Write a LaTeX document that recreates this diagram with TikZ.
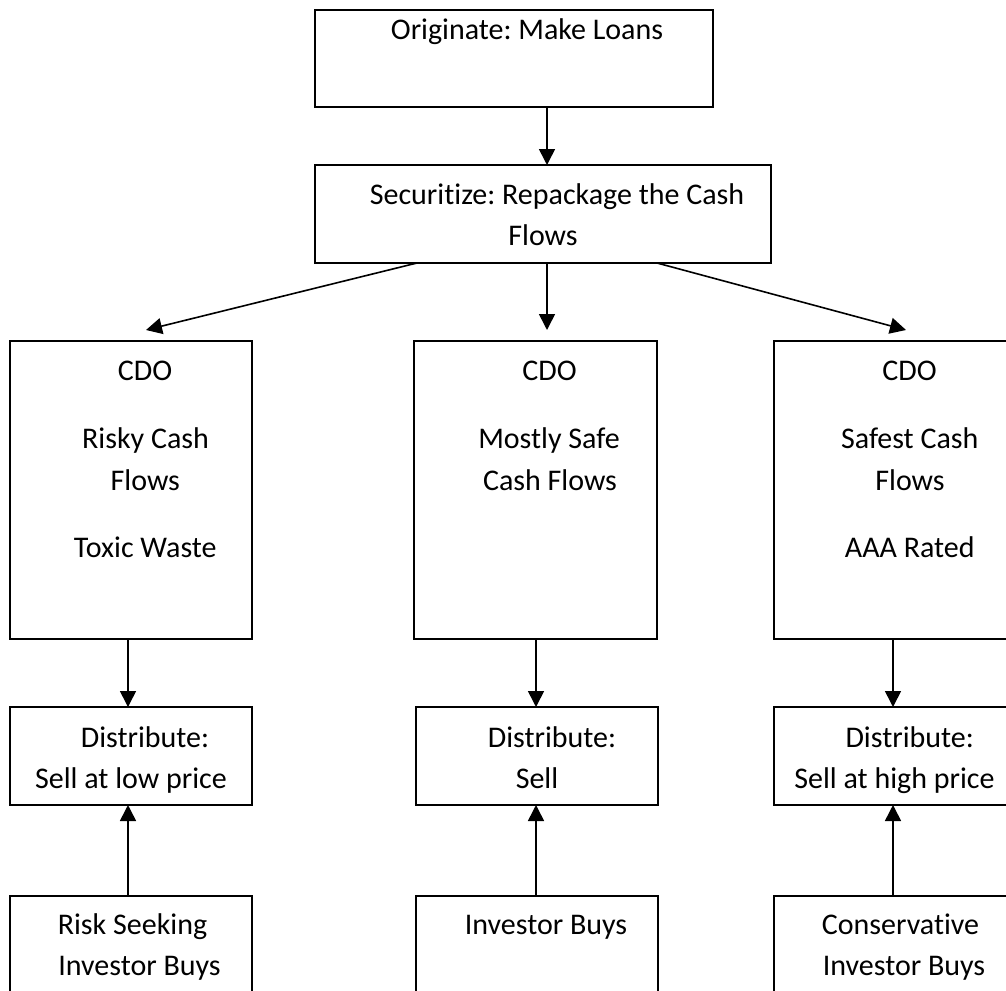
\documentclass[tikz,border=0pt]{standalone}
\usepackage{fontspec}
\setmainfont{Carlito}[Ligatures={NoCommon}]
\usetikzlibrary{arrows.meta}
\frenchspacing
\begin{document}
\begin{tikzpicture}[x=1pt,y=-1pt,
  box/.style={draw=black, line width=1.6pt, rectangle, inner sep=0pt, outer sep=0pt},
  txt/.style={anchor=base, inner sep=0pt, font=\fontsize{30}{41}\selectfont\frenchspacing},
  arr/.style={line width=1.6pt, -{Triangle[length=16pt,width=16pt]}},
  ln/.style={line width=1.6pt}]
\useasboundingbox (0,0) rectangle (1006,990);
\clip (0,0) rectangle (1006,990);
\fill[white] (0,0) rectangle (1006,990);

% boxes
\node[box, minimum width=398pt, minimum height=97pt] (orig) at (514,58.5) {};
\node[box, minimum width=456pt, minimum height=98pt] (sec) at (543,214) {};

\node[box, minimum width=242pt, minimum height=298pt] (cdoL) at (131,490) {};
\node[box, minimum width=243pt, minimum height=298pt] (cdoM) at (535.5,490) {};
\node[box, minimum width=242pt, minimum height=298pt] (cdoR) at (895,490) {};

\node[box, minimum width=242pt, minimum height=98pt] (distL) at (131,756) {};
\node[box, minimum width=242pt, minimum height=98pt] (distM) at (537,756) {};
\node[box, minimum width=242pt, minimum height=98pt] (distR) at (895,756) {};

\node[box, minimum width=242pt, minimum height=140pt] (invL) at (131,966) {};
\node[box, minimum width=242pt, minimum height=140pt] (invM) at (537,966) {};
\node[box, minimum width=242pt, minimum height=140pt] (invR) at (895,966) {};

% texts
\node[txt] (t-orig) at (527,40) {Originate: Make Loans};
\node[txt] (t-sec1) at (557,204) {Securitize: Repackage the Cash};
\node[txt] (t-sec2) at (543,245) {Flows};

\node[txt] (tL1) at (145,380) {CDO};
\node[txt] (tL2) at (145.5,448) {Risky Cash};
\node[txt] (tL3) at (145.3,490) {Flows};
\node[txt] (tL4) at (145.3,557) {Toxic Waste};

\node[txt] (tM1) at (549.5,380) {CDO};
\node[txt] (tM2) at (549,448) {Mostly Safe};
\node[txt] (tM3) at (550,490) {Cash Flows};

\node[txt] (tR1) at (909.5,380) {CDO};
\node[txt] (tR2) at (909.7,448) {Safest Cash};
\node[txt] (tR3) at (910,490) {Flows};
\node[txt] (tR4) at (909.7,557) {AAA Rated};

\node[txt] (dL1) at (145,747) {Distribute:};
\node[txt] (dL2) at (131,788) {Sell at low price};
\node[txt] (dM1) at (552,747) {Distribute:};
\node[txt] (dM2) at (537,788) {Sell};
\node[txt] (dR1) at (909.7,747) {Distribute:};
\node[txt] (dR2) at (894.5,788) {Sell at high price};

\node[txt] (iL1) at (132.5,934) {Risk Seeking};
\node[txt] (iL2) at (139.5,975) {Investor Buys};
\node[txt] (iM1) at (546,934) {Investor Buys};
\node[txt] (iR1) at (900.5,934) {Conservative};
\node[txt] (iR2) at (904,975) {Investor Buys};

% connectors
\draw[arr] ([xshift=33pt]orig.south) -- ([xshift=4pt]sec.north);
\draw[arr] ([xshift=4pt]sec.south) -- ([xshift=11.5pt,yshift=11pt]cdoM.north);
\draw[arr] ([xshift=-126pt]sec.south) -- ([xshift=15pt,yshift=11pt]cdoL.north);
\draw[arr] ([xshift=114pt]sec.south) -- ([xshift=11pt,yshift=11pt]cdoR.north);

\draw[arr] ([xshift=-3pt]cdoL.south) -- ([xshift=-3pt]distL.north);
\draw[arr] ([xshift=0.5pt]cdoM.south) -- ([xshift=-1pt]distM.north);
\draw[arr] ([xshift=-2pt]cdoR.south) -- ([xshift=-2pt]distR.north);

\draw[arr] ([xshift=-3pt]invL.north) -- ([xshift=-3pt]distL.south);
\draw[arr] ([xshift=-1pt]invM.north) -- ([xshift=-1pt]distM.south);
\draw[arr] ([xshift=-2pt]invR.north) -- ([xshift=-2pt]distR.south);
\end{tikzpicture}
\end{document}
